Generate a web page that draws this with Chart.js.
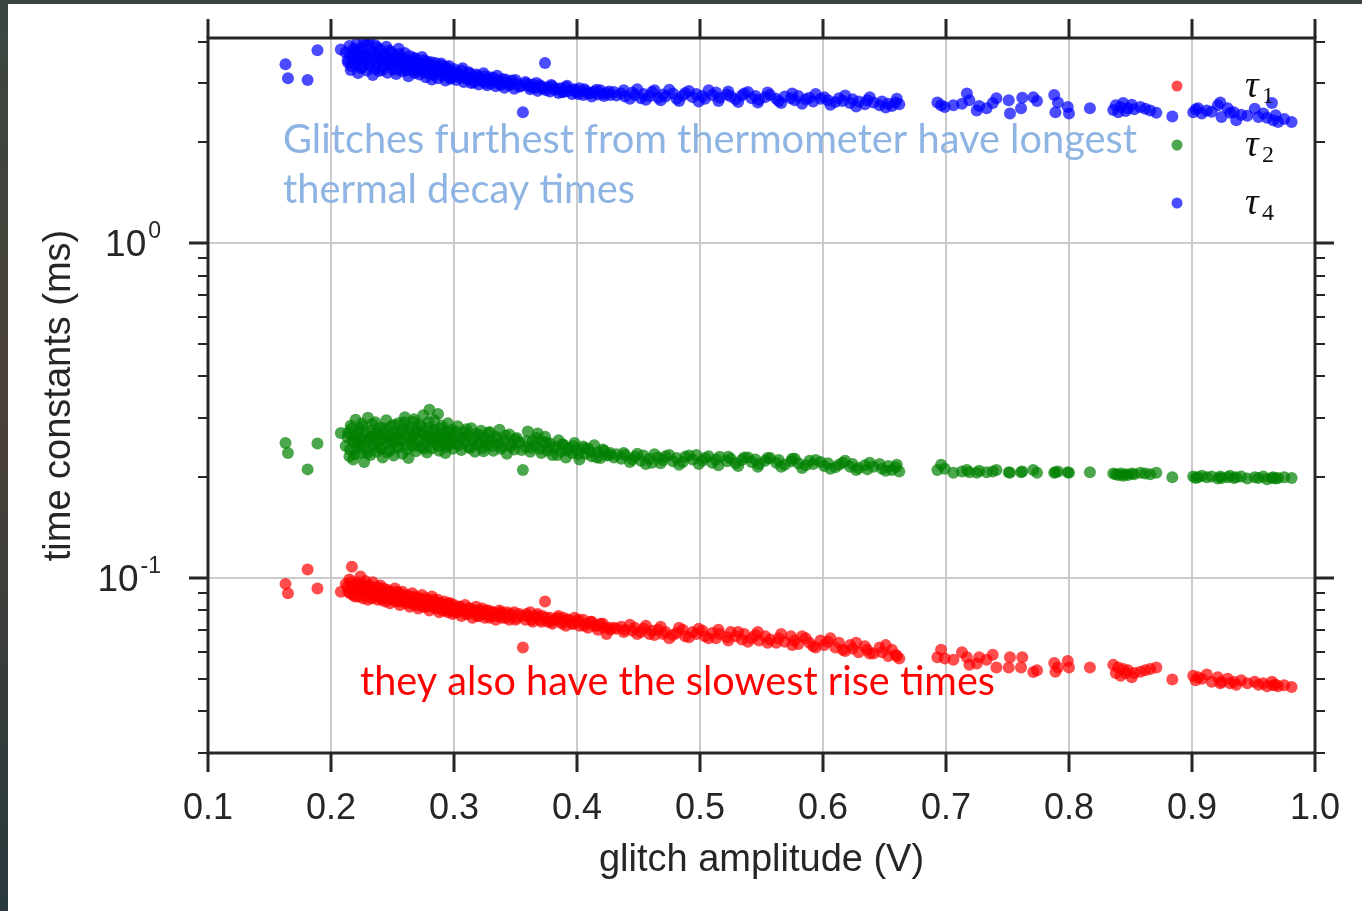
<!DOCTYPE html>
<html>
<head>
<meta charset="utf-8">
<title>time constants vs glitch amplitude</title>
<script src="https://cdn.jsdelivr.net/npm/chart.js@4.4.1/dist/chart.umd.min.js"></script>
<style>
  html, body { margin: 0; padding: 0; }
  body {
    width: 1362px; height: 911px; overflow: hidden; position: relative;
    background: linear-gradient(to bottom, #3b4641, #4a4139 45%, #28393d);
  }
  #paper { position: absolute; left: 8px; top: 4px; right: 0; bottom: 0; background: #ffffff; }
  #chart { position: absolute; left: 0; top: 0; }
</style>
</head>
<body>
<div id="paper"></div>
<canvas id="chart" width="1362" height="911"></canvas>
<script>
// glitch amplitude (V), one entry per glitch
const amplitude = [
  0.163, 0.165, 0.181, 0.189, 0.208,
  0.212, 0.214, 0.215, 0.216, 0.217, 0.218, 0.219, 0.220, 0.221, 0.222,
  0.223, 0.224, 0.2245, 0.225, 0.226, 0.227, 0.228, 0.229, 0.230, 0.231,
  0.232, 0.233, 0.234, 0.235, 0.236, 0.237, 0.238, 0.239, 0.240, 0.241,
  0.242, 0.243, 0.244, 0.245, 0.246, 0.247, 0.248, 0.249, 0.250, 0.251,
  0.252, 0.253, 0.254, 0.255, 0.256, 0.257, 0.258, 0.259, 0.260, 0.261,
  0.262, 0.263, 0.264, 0.265, 0.266, 0.267, 0.268, 0.269, 0.270, 0.271,
  0.272, 0.273, 0.274, 0.275, 0.276, 0.277, 0.278, 0.279, 0.280, 0.281,
  0.282, 0.283, 0.284, 0.285, 0.286, 0.287, 0.288, 0.289, 0.290, 0.291,
  0.292, 0.293, 0.294, 0.295, 0.296, 0.297, 0.298, 0.299, 0.300, 0.302,
  0.303, 0.305, 0.306, 0.308, 0.309, 0.311, 0.312, 0.314, 0.315, 0.317,
  0.318, 0.320, 0.322, 0.323, 0.325, 0.327, 0.328, 0.330, 0.332, 0.334,
  0.336, 0.337, 0.339, 0.341, 0.343, 0.345, 0.347, 0.349, 0.351, 0.353,
  0.356, 0.358, 0.360, 0.362, 0.364, 0.366, 0.368, 0.370, 0.372, 0.374,
  0.376, 0.378, 0.380, 0.382, 0.385, 0.387, 0.389, 0.391, 0.393, 0.396,
  0.398, 0.400, 0.402, 0.405, 0.407, 0.409, 0.412, 0.414, 0.417, 0.419,
  0.422, 0.424, 0.427, 0.430, 0.432,
  0.436, 0.439, 0.445, 0.447, 0.452, 0.454, 0.459, 0.461, 0.466, 0.470,
  0.472, 0.478, 0.481, 0.486, 0.488, 0.494, 0.497, 0.502, 0.504, 0.510,
  0.513, 0.516, 0.522, 0.525, 0.529, 0.534, 0.536, 0.542, 0.545, 0.548,
  0.553, 0.557, 0.562, 0.564, 0.569, 0.574, 0.577, 0.580, 0.586, 0.589,
  0.592, 0.598, 0.601, 0.604, 0.610, 0.613, 0.616, 0.622, 0.624, 0.629,
  0.634, 0.636, 0.641, 0.646, 0.648, 0.653, 0.656, 0.659, 0.662,
  0.693, 0.696, 0.699, 0.706, 0.713, 0.717, 0.719, 0.725, 0.727, 0.733,
  0.738, 0.741, 0.751, 0.752, 0.761, 0.762, 0.771, 0.774, 0.788, 0.789,
  0.791, 0.799, 0.800, 0.817,
  0.836, 0.838, 0.840, 0.842, 0.844, 0.846, 0.848, 0.851, 0.853, 0.858,
  0.862, 0.866, 0.871, 0.884,
  0.901, 0.903, 0.905, 0.908, 0.912, 0.916, 0.921, 0.923, 0.924, 0.929,
  0.931, 0.934, 0.936, 0.940, 0.945, 0.951, 0.954, 0.958, 0.961, 0.965,
  0.966, 0.968, 0.970, 0.975, 0.981,
  // second pass over the crowded part of the run
  0.2135, 0.2155, 0.2165, 0.2185, 0.2195, 0.2215, 0.2235, 0.2255, 0.2275, 0.2295,
  0.2315, 0.2335, 0.2355, 0.2375, 0.2395, 0.2415, 0.2435, 0.2455, 0.2475, 0.2495,
  0.2515, 0.2535, 0.2555, 0.2575, 0.2595, 0.2615, 0.2635, 0.2655, 0.2675, 0.2695,
  0.2715, 0.2735, 0.2755, 0.2775, 0.2795, 0.2815, 0.2835, 0.2855, 0.2875, 0.2895,
  0.2915, 0.2935, 0.2955, 0.2975, 0.301, 0.304, 0.307, 0.310, 0.313, 0.316,
  0.319, 0.321, 0.324, 0.326, 0.329, 0.331, 0.335, 0.338, 0.342, 0.346,
  0.350, 0.355, 0.359, 0.363, 0.367, 0.371, 0.375, 0.379, 0.384, 0.388,
  0.392, 0.397, 0.401, 0.406, 0.411, 0.416, 0.421, 0.426,
  0.438, 0.443, 0.449, 0.456, 0.463, 0.468, 0.475, 0.483, 0.491, 0.499,
  0.507, 0.515, 0.523, 0.531, 0.539, 0.547, 0.555, 0.566, 0.575, 0.583,
  0.594, 0.606, 0.618, 0.627, 0.638, 0.651, 0.660
]

// rise time tau1 (ms)
const tau1 = [
  0.096, 0.090, 0.106, 0.093, 0.091,
  0.096, 0.091, 0.099, 0.093, 0.108, 0.089, 0.095, 0.092, 0.097, 0.088,
  0.094, 0.101, 0.090, 0.096, 0.087, 0.093, 0.098, 0.091, 0.086, 0.095,
  0.089, 0.092, 0.097, 0.088, 0.090, 0.094, 0.086, 0.091, 0.095, 0.087,
  0.089, 0.093, 0.085, 0.090, 0.092, 0.088, 0.084, 0.091, 0.087, 0.089,
  0.093, 0.085, 0.088, 0.090, 0.083, 0.087, 0.091, 0.086, 0.088, 0.084,
  0.089, 0.086, 0.082, 0.087, 0.090, 0.085, 0.083, 0.088, 0.086, 0.081,
  0.087, 0.084, 0.089, 0.082, 0.085, 0.087, 0.083, 0.086, 0.080, 0.084,
  0.088, 0.082, 0.085, 0.081, 0.083, 0.086, 0.079, 0.084, 0.082, 0.080,
  0.085, 0.081, 0.083, 0.079, 0.082, 0.084, 0.080, 0.078, 0.083, 0.081,
  0.079, 0.082, 0.077, 0.080, 0.083, 0.078, 0.081, 0.079, 0.076, 0.080,
  0.082, 0.077, 0.079, 0.081, 0.076, 0.078, 0.080, 0.077, 0.079, 0.075,
  0.078, 0.080, 0.076, 0.078, 0.079, 0.075, 0.077, 0.079, 0.076, 0.078,
  0.062, 0.075, 0.077, 0.079, 0.074, 0.076, 0.078, 0.075, 0.077, 0.085,
  0.074, 0.076, 0.073, 0.075, 0.077, 0.074, 0.076, 0.072, 0.075, 0.073,
  0.076, 0.074, 0.072, 0.075, 0.073, 0.071, 0.074, 0.072, 0.070, 0.073,
  0.071, 0.068, 0.070, 0.071, 0.0705,
  0.0715, 0.070, 0.0695, 0.071, 0.069, 0.0705, 0.068, 0.0695, 0.070, 0.068,
  0.069, 0.0675, 0.0685, 0.070, 0.067, 0.069, 0.068, 0.0695, 0.067, 0.0685,
  0.066, 0.068, 0.0665, 0.069, 0.067, 0.0655, 0.068, 0.066, 0.0675, 0.065,
  0.067, 0.0655, 0.064, 0.066, 0.0645, 0.067, 0.065, 0.0635, 0.066, 0.064,
  0.0625, 0.065, 0.063, 0.0645, 0.062, 0.064, 0.061, 0.063, 0.0615, 0.060,
  0.0625, 0.061, 0.0595, 0.062, 0.060, 0.0585, 0.061, 0.059, 0.0575,
  0.058, 0.061, 0.0575, 0.057, 0.060, 0.058, 0.055, 0.0555, 0.058, 0.057,
  0.059, 0.054, 0.054, 0.058, 0.054, 0.058, 0.0524, 0.053, 0.0557, 0.0525,
  0.054, 0.0565, 0.054, 0.054,
  0.055, 0.052, 0.054, 0.051, 0.0535, 0.052, 0.053, 0.0505, 0.052, 0.0525,
  0.053, 0.0535, 0.054, 0.0497,
  0.051, 0.0495, 0.0505, 0.050, 0.0515, 0.049, 0.0505, 0.0485, 0.049, 0.050,
  0.0485, 0.049, 0.048, 0.0495, 0.0485, 0.049, 0.048, 0.0485, 0.0475, 0.049,
  0.0478, 0.048, 0.0475, 0.0478, 0.0472,
  0.094, 0.090, 0.097, 0.092, 0.088, 0.095, 0.091, 0.093, 0.089, 0.095,
  0.090, 0.087, 0.092, 0.089, 0.093, 0.086, 0.090, 0.088, 0.091, 0.086,
  0.088, 0.091, 0.085, 0.089, 0.087, 0.085, 0.088, 0.084, 0.087, 0.085,
  0.083, 0.086, 0.084, 0.082, 0.085, 0.083, 0.086, 0.082, 0.084, 0.081,
  0.083, 0.080, 0.084, 0.081, 0.079, 0.082, 0.080, 0.078, 0.081, 0.079,
  0.077, 0.080, 0.078, 0.080, 0.076, 0.079, 0.077, 0.079, 0.076, 0.078,
  0.075, 0.077, 0.078, 0.075, 0.077, 0.074, 0.076, 0.074, 0.076, 0.073,
  0.075, 0.073, 0.075, 0.072, 0.074, 0.072, 0.073, 0.071,
  0.069, 0.0725, 0.068, 0.072, 0.0675, 0.0715, 0.066, 0.071, 0.0665, 0.0705,
  0.066, 0.070, 0.065, 0.069, 0.0645, 0.069, 0.064, 0.068, 0.063, 0.067,
  0.062, 0.066, 0.0605, 0.064, 0.0595, 0.063, 0.0585
]

// tau2 (ms)
const tau2 = [
  0.253, 0.236, 0.211, 0.252, 0.271,
  0.248, 0.272, 0.231, 0.285, 0.259, 0.226, 0.266, 0.297, 0.244, 0.254,
  0.278, 0.236, 0.262, 0.289, 0.250, 0.222, 0.270, 0.241, 0.301, 0.257,
  0.233, 0.276, 0.264, 0.249, 0.292, 0.238, 0.268, 0.255, 0.281, 0.243,
  0.229, 0.273, 0.260, 0.296, 0.252, 0.267, 0.240, 0.284, 0.258, 0.232,
  0.274, 0.263, 0.245, 0.290, 0.256, 0.271, 0.235, 0.279, 0.302, 0.250,
  0.265, 0.228, 0.283, 0.261, 0.247, 0.293, 0.269, 0.239, 0.276, 0.257,
  0.287, 0.246, 0.272, 0.306, 0.253, 0.266, 0.237, 0.281, 0.318, 0.259,
  0.244, 0.275, 0.296, 0.251, 0.268, 0.309, 0.240, 0.262, 0.285, 0.254,
  0.271, 0.236, 0.263, 0.290, 0.249, 0.258, 0.277, 0.243, 0.266, 0.252,
  0.284, 0.260, 0.241, 0.273, 0.255, 0.267, 0.246, 0.280, 0.257, 0.238,
  0.269, 0.253, 0.275, 0.244, 0.262, 0.249, 0.271, 0.256, 0.240, 0.264,
  0.251, 0.277, 0.247, 0.258, 0.235, 0.268, 0.250, 0.242, 0.262, 0.254,
  0.210, 0.246, 0.274, 0.238, 0.257, 0.249, 0.270, 0.243, 0.255, 0.264,
  0.240, 0.252, 0.233, 0.246, 0.258, 0.239, 0.250, 0.229, 0.244, 0.236,
  0.253, 0.241, 0.226, 0.247, 0.235, 0.243, 0.231, 0.249, 0.237, 0.228,
  0.240, 0.232, 0.236, 0.229, 0.234,
  0.227, 0.233, 0.226, 0.230, 0.224, 0.232, 0.227, 0.221, 0.229, 0.225,
  0.231, 0.223, 0.228, 0.222, 0.230, 0.226, 0.233, 0.224, 0.228, 0.221,
  0.226, 0.230, 0.223, 0.227, 0.220, 0.225, 0.229, 0.222, 0.226, 0.219,
  0.224, 0.228, 0.221, 0.225, 0.218, 0.223, 0.227, 0.220, 0.217, 0.224,
  0.219, 0.222, 0.216, 0.220, 0.214, 0.218, 0.221, 0.215, 0.219, 0.213,
  0.217, 0.211, 0.215, 0.219, 0.212, 0.216, 0.210, 0.214, 0.208,
  0.210, 0.218, 0.212, 0.206, 0.208, 0.210, 0.207, 0.206, 0.209, 0.207,
  0.208, 0.210, 0.207, 0.206, 0.207, 0.208, 0.210, 0.206, 0.206, 0.207,
  0.208, 0.207, 0.206, 0.207,
  0.205, 0.204, 0.203, 0.205, 0.202, 0.204, 0.203, 0.205, 0.204, 0.206,
  0.205, 0.204, 0.206, 0.200,
  0.201, 0.199, 0.200, 0.202, 0.200, 0.201, 0.198, 0.201, 0.199, 0.200,
  0.202, 0.199, 0.200, 0.201, 0.198, 0.200, 0.199, 0.201, 0.197, 0.199,
  0.200, 0.198, 0.199, 0.200, 0.199,
  0.263, 0.242, 0.279, 0.255, 0.234, 0.270, 0.249, 0.283, 0.258, 0.236,
  0.265, 0.288, 0.251, 0.273, 0.244, 0.262, 0.280, 0.237, 0.266, 0.253,
  0.287, 0.248, 0.269, 0.257, 0.292, 0.242, 0.275, 0.258, 0.298, 0.250,
  0.270, 0.283, 0.243, 0.263, 0.292, 0.255, 0.277, 0.262, 0.248, 0.279,
  0.260, 0.246, 0.272, 0.255, 0.274, 0.249, 0.263, 0.278, 0.244, 0.262,
  0.250, 0.267, 0.239, 0.256, 0.273, 0.248, 0.260, 0.243, 0.266, 0.247,
  0.259, 0.241, 0.256, 0.245, 0.262, 0.236, 0.254, 0.245, 0.233, 0.251,
  0.240, 0.248, 0.234, 0.244, 0.238, 0.229, 0.242, 0.233,
  0.236, 0.222, 0.235, 0.219, 0.234, 0.220, 0.233, 0.218, 0.232, 0.219,
  0.231, 0.217, 0.230, 0.216, 0.229, 0.215, 0.228, 0.215, 0.227, 0.213,
  0.225, 0.212, 0.224, 0.210, 0.221, 0.209, 0.218
]

// thermal decay tau4 (ms)
const tau4 = [
  3.42, 3.11, 3.07, 3.77, 3.79,
  3.71, 3.46, 3.88, 3.29, 3.62, 3.54, 3.77, 3.41, 3.95, 3.22,
  3.58, 3.69, 3.33, 3.84, 3.47, 3.99, 3.52, 3.28, 3.65, 4.02,
  3.39, 3.74, 3.18, 3.56, 3.90, 3.44, 3.61, 3.27, 3.79, 3.50,
  3.36, 3.68, 3.45, 3.86, 3.23, 3.57, 3.40, 3.72, 3.31, 3.53,
  3.64, 3.20, 3.47, 3.81, 3.37, 3.58, 3.26, 3.49, 3.70, 3.34,
  3.43, 3.15, 3.62, 3.30, 3.51, 3.39, 3.22, 3.55, 3.33, 3.46,
  3.19, 3.40, 3.60, 3.28, 3.37, 3.13, 3.49, 3.25, 3.42, 3.31,
  3.08, 3.36, 3.20, 3.45, 3.27, 3.11, 3.34, 3.23, 3.40, 3.16,
  3.29, 3.06, 3.33, 3.19, 3.38, 3.10, 3.25, 3.14, 3.31, 3.07,
  3.22, 3.12, 3.28, 3.03, 3.17, 3.09, 3.24, 3.01, 3.14, 3.06,
  3.19, 2.98, 3.11, 3.04, 3.15, 2.96, 3.08, 3.00, 3.12, 2.94,
  3.05, 2.99, 3.09, 2.91, 3.02, 2.96, 3.06, 2.89, 3.00, 2.93,
  2.46, 3.03, 2.95, 2.88, 2.98, 2.91, 2.85, 2.96, 2.89, 3.45,
  2.92, 2.84, 2.94, 2.87, 2.81, 2.90, 2.83, 2.92, 2.85, 2.79,
  2.88, 2.82, 2.90, 2.77, 2.85, 2.80, 2.74, 2.84, 2.78, 2.86,
  2.75, 2.81, 2.77, 2.83, 2.76,
  2.80, 2.74, 2.82, 2.77, 2.71, 2.79, 2.75, 2.83, 2.72, 2.78,
  2.74, 2.80, 2.70, 2.76, 2.81, 2.73, 2.79, 2.75, 2.70, 2.77,
  2.82, 2.72, 2.78, 2.74, 2.69, 2.76, 2.80, 2.71, 2.75, 2.68,
  2.73, 2.77, 2.70, 2.66, 2.74, 2.71, 2.67, 2.75, 2.69, 2.72,
  2.65, 2.70, 2.73, 2.67, 2.64, 2.71, 2.66, 2.62, 2.69, 2.65,
  2.60, 2.67, 2.63, 2.58, 2.65, 2.61, 2.57, 2.63, 2.60,
  2.63, 2.58, 2.55, 2.58, 2.61, 2.80, 2.67, 2.49, 2.57, 2.53,
  2.62, 2.71, 2.67, 2.44, 2.53, 2.72, 2.73, 2.66, 2.77, 2.46,
  2.63, 2.55, 2.44, 2.53,
  2.50, 2.58, 2.46, 2.55, 2.62, 2.48, 2.53, 2.59, 2.51, 2.55,
  2.52, 2.49, 2.45, 2.39,
  2.46, 2.51, 2.53, 2.44, 2.49, 2.47, 2.58, 2.63, 2.38, 2.53,
  2.45, 2.46, 2.33, 2.42, 2.40, 2.52, 2.38, 2.44, 2.37, 2.62,
  2.33, 2.41, 2.30, 2.35, 2.30,
  3.52, 3.66, 3.38, 3.81, 3.48, 3.60, 3.75, 3.36, 3.63, 3.92,
  3.45, 3.70, 3.32, 3.85, 3.55, 3.29, 3.63, 3.48, 3.76, 3.42,
  3.59, 3.30, 3.67, 3.41, 3.55, 3.28, 3.50, 3.38, 3.58, 3.26,
  3.44, 3.33, 3.52, 3.22, 3.39, 3.47, 3.18, 3.35, 3.28, 3.44,
  3.21, 3.36, 3.26, 3.12, 3.24, 3.16, 3.33, 3.11, 3.21, 3.02,
  3.16, 3.07, 3.22, 3.01, 3.13, 3.05, 3.16, 2.97, 3.08, 2.99,
  3.07, 2.95, 3.00, 2.92, 3.01, 2.93, 2.86, 2.97, 2.89, 2.83,
  2.95, 2.86, 2.79, 2.88, 2.81, 2.87, 2.79, 2.84,
  2.86, 2.70, 2.88, 2.68, 2.86, 2.67, 2.87, 2.66, 2.85, 2.65,
  2.86, 2.66, 2.84, 2.64, 2.83, 2.63, 2.82, 2.62, 2.80, 2.61,
  2.79, 2.59, 2.76, 2.56, 2.73, 2.54, 2.70
]

const seriesSubs = ["1", "2", "4"]
const seriesColors = ["rgba(255,0,0,0.7)", "rgba(0,128,0,0.7)", "rgba(0,0,255,0.7)"]

const xTickValues = [0.1, 0.2, 0.3, 0.4, 0.5, 0.6, 0.7, 0.8, 0.9, 1.0]
const yMajorTicks = [0.1, 1]
const yMinorTicks = [0.03, 0.04, 0.05, 0.06, 0.07, 0.08, 0.09, 0.2, 0.3, 0.4, 0.5, 0.6, 0.7, 0.8, 0.9, 2, 3, 4]
const yTickExponents = ["-1", "0"]

const noteTop = ["Glitches furthest from thermometer have longest", "thermal decay times"]
const noteBottom = "they also have the slowest rise times"

const INK = "#262626"
const SANS = "'Liberation Sans', Arial, sans-serif"
const DOT = 6

function puntos(taus) {
    const n = Math.min(amplitude.length, taus.length)
    const out = []
    for (let i = 0; i < n; i++) out.push({ x: amplitude[i], y: taus[i] })
    return out
}

function esDecada(v) {
    const l = Math.log10(v)
    return Math.abs(l - Math.round(l)) < 1e-6
}

///EJES, ETIQUETAS, LEYENDA Y NOTAS
const overlay = {
    id: "overlay",
    afterDraw(chart) {
        const { ctx, chartArea: a, scales } = chart
        const xs = scales.x
        const ys = scales.y
        ctx.save()

        // frame
        ctx.strokeStyle = INK
        ctx.lineWidth = 3
        ctx.strokeRect(a.left, a.top, a.right - a.left, a.bottom - a.top)

        // x ticks, bottom and top, pointing outwards
        ctx.lineWidth = 3
        ctx.beginPath()
        for (const v of xTickValues) {
            const px = Math.round(xs.getPixelForValue(v))
            ctx.moveTo(px, a.bottom); ctx.lineTo(px, a.bottom + 19)
            ctx.moveTo(px, a.top); ctx.lineTo(px, a.top - 19)
        }
        ctx.stroke()

        // y ticks, left and right
        ctx.beginPath()
        for (const v of yMajorTicks) {
            const py = Math.round(ys.getPixelForValue(v))
            ctx.moveTo(a.left - 19, py); ctx.lineTo(a.left, py)
            ctx.moveTo(a.right, py); ctx.lineTo(a.right + 19, py)
        }
        ctx.stroke()
        ctx.lineWidth = 2
        ctx.beginPath()
        for (const v of yMinorTicks) {
            const py = Math.round(ys.getPixelForValue(v))
            ctx.moveTo(a.left - 10, py); ctx.lineTo(a.left, py)
            ctx.moveTo(a.right, py); ctx.lineTo(a.right + 10, py)
        }
        ctx.stroke()

        // x tick labels
        ctx.fillStyle = INK
        ctx.font = `36px ${SANS}`
        ctx.textAlign = "center"
        ctx.textBaseline = "middle"
        for (const v of xTickValues) {
            ctx.fillText(v.toFixed(1), xs.getPixelForValue(v), a.bottom + 56)
        }

        // y tick labels: 10 with a raised exponent
        yMajorTicks.forEach((v, i) => {
            const py = ys.getPixelForValue(v)
            const exp = yTickExponents[i]
            ctx.font = `23px ${SANS}`
            const wExp = ctx.measureText(exp).width
            const right = a.left - 47
            ctx.textAlign = "left"
            ctx.textBaseline = "alphabetic"
            ctx.fillText(exp, right - wExp, py - 5)
            ctx.font = `37px ${SANS}`
            ctx.textAlign = "right"
            ctx.fillText("10", right - wExp - 2, py + 13)
        })

        // axis titles
        ctx.font = `38px ${SANS}`
        ctx.textAlign = "center"
        ctx.textBaseline = "middle"
        ctx.fillText("glitch amplitude (V)", (a.left + a.right) / 2, 861)
        ctx.save()
        ctx.translate(60, (a.top + a.bottom) / 2)
        ctx.rotate(-Math.PI / 2)
        ctx.fillText("time constants (ms)", 0, 0)
        ctx.restore()

        // legend
        const legendY = [86, 145, 203]
        chart.data.datasets.forEach((ds, i) => {
            const y0 = legendY[i]
            ctx.fillStyle = ds.backgroundColor
            ctx.beginPath()
            ctx.arc(1177, y0, 5.5, 0, Math.PI * 2)
            ctx.fill()
            ctx.fillStyle = "#111111"
            ctx.textAlign = "left"
            ctx.textBaseline = "alphabetic"
            ctx.font = "italic 38px 'Liberation Serif', 'DejaVu Serif', serif"
            ctx.fillText("τ", 1245, y0 + 11)
            ctx.font = "24px 'Liberation Serif', 'DejaVu Serif', serif"
            ctx.fillText(seriesSubs[i], 1262, y0 + 17)
        })

        // notes
        ctx.textAlign = "left"
        ctx.textBaseline = "alphabetic"
        ctx.font = "40px Lato, 'Open Sans', sans-serif"
        ctx.fillStyle = "#8db4e2"
        ctx.fillText(noteTop[0], 283, 153, 854)
        ctx.fillText(noteTop[1], 283, 203, 352)
        ctx.fillStyle = "#ff0000"
        ctx.fillText(noteBottom, 360, 695, 635)

        ctx.restore()
    }
}

const datasets = [tau1, tau2, tau4].map((taus, i) => ({
    label: "τ" + seriesSubs[i],
    data: puntos(taus),
    backgroundColor: seriesColors[i],
    borderWidth: 0,
    pointRadius: DOT,
    pointHoverRadius: DOT
}))

new Chart(document.getElementById("chart"), {
    type: "scatter",
    data: { datasets },
    options: {
        responsive: false,
        animation: false,
        events: [],
        layout: { padding: { top: 38, right: 47, left: 0, bottom: 0 } },
        plugins: { legend: { display: false }, tooltip: { enabled: false } },
        scales: {
            x: {
                type: "linear",
                min: 0.1,
                max: 1.0,
                ticks: { display: false, stepSize: 0.1 },
                grid: { color: "#cbcbcb", lineWidth: 2, drawTicks: false },
                border: { display: false },
                afterFit: (s) => { s.height = 158 }
            },
            y: {
                type: "logarithmic",
                min: 0.03,
                max: 4.1,
                ticks: { display: false },
                grid: {
                    color: (c) => (c.tick && esDecada(c.tick.value) ? "#cbcbcb" : "rgba(0,0,0,0)"),
                    lineWidth: 2,
                    drawTicks: false
                },
                border: { display: false },
                afterFit: (s) => { s.width = 208 }
            }
        }
    },
    plugins: [overlay]
})
</script>
</body>
</html>
